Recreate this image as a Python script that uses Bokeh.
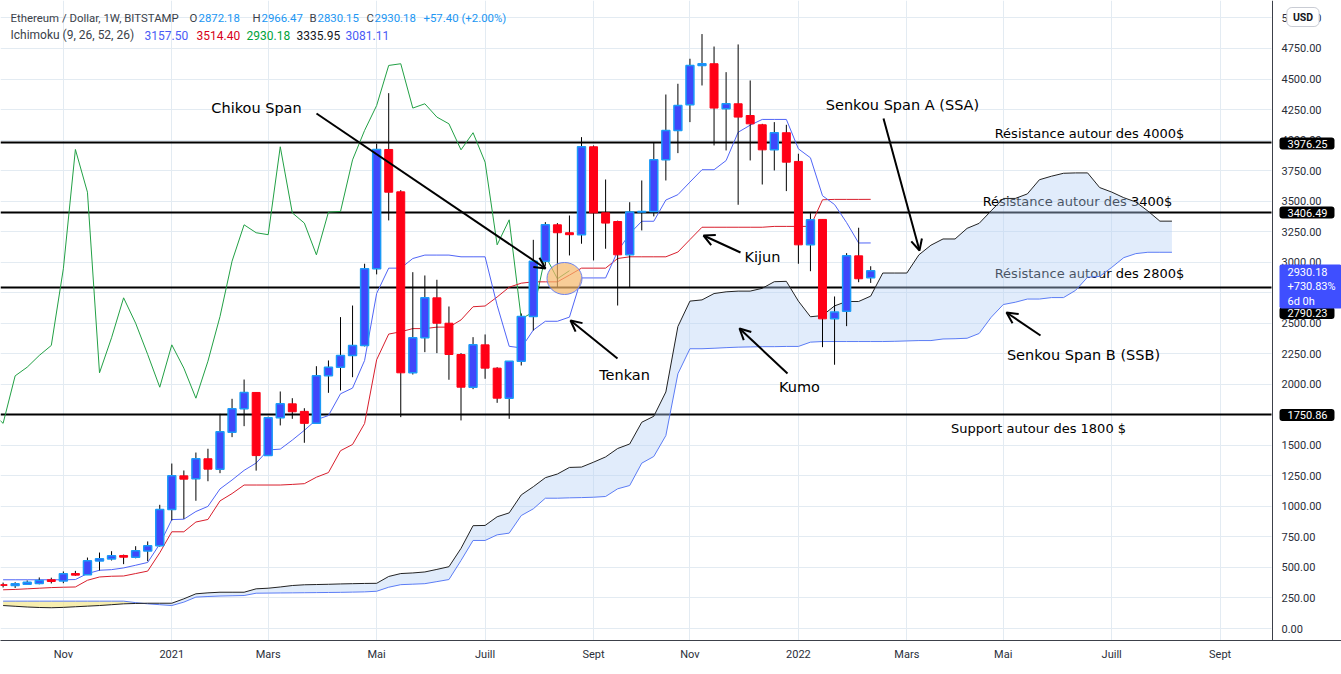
import numpy as np
from bokeh.plotting import figure
from bokeh.models import (Range1d, FixedTicker, SingleIntervalTicker, NumeralTickFormatter,
                          Label, Arrow, OpenHead, ColumnDataSource)
from bokeh.core.properties import value
from bokeh.embed import file_html
from bokeh.resources import INLINE

# ---------------- data (weekly bars, bar 0 = week of Mon 4 Jan 2021) ----------------
first_bar = -14

opens = [359, 353, 363, 368, 399, 388, 450, 440, 552, 569, 598, 584, 634, 677,
         975, 1250, 1226, 1390, 1305, 1608, 1799, 1933, 1416, 1725,
         1840, 1778, 1680, 2069, 2140, 2236, 2318, 2946, 3923, 3576,
         2094, 2381, 2708, 2500, 2244, 1976, 2323, 2132, 1886, 2189,
         2555, 3008, 3306, 3241, 3225, 3945, 3404, 3333, 3060, 3410,
         3415, 3838, 4079, 4289, 4611, 4625, 4256, 4297, 4201, 4125,
         3920, 4060, 3825, 3142, 3350, 2536, 2599, 3052, 2872.18]
highs = [376, 379, 393, 418, 416, 467, 472, 581, 622, 633, 605, 674, 713, 1013,
         1351, 1294, 1441, 1472, 1758, 1881, 2039, 1935, 1735, 1941,
         1886, 1804, 2148, 2195, 2550, 2645, 2987, 3970, 4384, 3590,
         2918, 2891, 2856, 2637, 2255, 2386, 2408, 2140, 2190, 2580,
         3183, 3328, 3320, 3382, 4024, 3956, 3677, 3340, 3491, 3669,
         3977, 4373, 4461, 4666, 4868, 4766, 4556, 4783, 4488, 4133,
         4147, 4125, 3888, 3401, 3350, 2719, 3074, 3282, 2966.47]
lows = [336, 332, 358, 362, 369, 371, 432, 438, 475, 557, 527, 575, 551, 670,
        885, 898, 1046, 1206, 1272, 1567, 1657, 1293, 1416, 1663,
        1717, 1521, 1676, 1930, 1949, 2058, 2310, 2900, 3342, 1731,
        2080, 2263, 2255, 2037, 1704, 1960, 2045, 1848, 1717, 2154,
        2441, 2970, 2795, 3055, 3151, 3014, 3110, 2645, 2795, 3260,
        3375, 3669, 3893, 4147, 4447, 3956, 3915, 3470, 3833, 3636,
        3751, 3582, 2987, 2926, 2304, 2160, 2476, 2836, 2830.15]
closes = [353, 366, 379, 393, 385, 448, 437, 554, 571, 595, 584, 636, 677, 975,
          1250, 1223, 1390, 1305, 1611, 1799, 1933, 1416, 1725, 1840,
          1775, 1680, 2069, 2140, 2236, 2318, 2946, 3923, 3573, 2094,
          2381, 2708, 2500, 2244, 1976, 2323, 2132, 1886, 2189, 2555,
          3008, 3306, 3241, 3225, 3945, 3404, 3320, 3060, 3410, 3415,
          3838, 4079, 4283, 4611, 4625, 4262, 4297, 4188, 4133, 3920,
          4060, 3819, 3142, 3347, 2536, 2591, 3052, 2864, 2930.18]

tenkan = [399, 399, 399, 399, 399, 399, 401, 450, 477, 482, 496, 518, 541, 692,
          892, 895, 958, 1000, 1143, 1216, 1295, 1355, 1462, 1469,
          1543, 1623, 1710, 1744, 1922, 1969, 2195, 2744, 2951, 2951,
          3030, 3058, 3058, 3058, 3044, 3044, 3044, 2647, 2311, 2298,
          2444, 2516, 2516, 2550, 2871, 2871, 2871, 3089, 3233, 3335,
          3335, 3509, 3553, 3656, 3757, 3757, 3832, 4064, 4122, 4169,
          4169, 4169, 3928, 3855, 3544, 3472, 3324, 3157, 3157.50]
kijun = [317, 320, 325, 330, 335, 338, 340, 395, 422, 428, 430, 450, 470, 620,
         792, 792, 872, 893, 1045, 1105, 1175, 1175, 1175, 1175,
         1180, 1186, 1239, 1277, 1456, 1507, 1679, 2201, 2411, 2430,
         2456, 2456, 2468, 2468, 2527, 2635, 2641, 2715, 2795, 2828,
         2839, 2839, 2839, 2894, 2951, 2951, 2951, 3030, 3044, 3044,
         3044, 3044, 3083, 3185, 3286, 3286, 3286, 3286, 3286, 3286,
         3293, 3293, 3293, 3293, 3511, 3514, 3514, 3514, 3514.40]

# leading spans, plotted from bar -14 to bar 83
senkou_a = [188, 182, 176, 172, 170, 173, 178, 183, 188, 195,
            202, 205, 207, 207, 207, 243, 284, 292, 297, 297,
            297, 325, 330, 340, 352, 358, 360, 362, 365, 367,
            369, 370, 426, 450, 455, 463, 484, 506, 656, 842,
            844, 915, 947, 1094, 1161, 1235, 1265, 1319, 1322, 1362,
            1405, 1474, 1511, 1689, 1738, 1937, 2473, 2681, 2691, 2743,
            2757, 2763, 2763, 2786, 2840, 2843, 2681, 2553, 2563, 2642,
            2678, 2678, 2722, 2911, 2911, 2911, 3060, 3139, 3190, 3190,
            3277, 3318, 3421, 3522, 3522, 3559, 3675, 3704, 3728, 3731,
            3731, 3611, 3574, 3528, 3493, 3419, 3336, 3335.95]
senkou_b = [224, 224, 224, 224, 224, 224, 224, 224, 224, 224,
            224, 212, 202, 195, 188, 216, 257, 262, 266, 268,
            270, 289, 290, 291, 292, 293, 294, 295, 296, 298,
            300, 305, 338, 359, 363, 367, 384, 401, 557, 721,
            721, 767, 781, 925, 980, 1067, 1067, 1070, 1072, 1075,
            1081, 1144, 1171, 1354, 1409, 1580, 2086, 2291, 2291, 2295,
            2300, 2304, 2306, 2308, 2308, 2310, 2310, 2345, 2350, 2350,
            2350, 2350, 2350, 2350, 2352, 2355, 2358, 2358, 2371, 2373,
            2377, 2416, 2549, 2653, 2672, 2698, 2698, 2710, 2710, 2769,
            2877, 2883, 2957, 3037, 3070, 3081, 3081, 3081.11]

displacement = 25  # lagging span offset used by the chart

month_ticks = [-9, 0, 8, 17, 26, 35, 43, 52, 61, 69, 78, 87]
month_labels = ["Nov", "2021", "Mars", "Mai", "Juill", "Sept",
                "Nov", "2022", "Mars", "Mai", "Juill", "Sept"]

levels = [3976.25, 3406.49, 2790.23, 1750.86]
last_close = 2930.18

# ---------------- layout helpers (screen px -> data) ----------------
BAR_PX = 12.05
BAR0_PX = 171.3
PRICE_PX = 0.12211
PRICE0_PX = 628.0
SCALE_PX = 1271  # left edge of the price scale


def dx(px):
    return (px - BAR0_PX) / BAR_PX


def dy(py):
    return (PRICE0_PX - py) / PRICE_PX


bars = list(range(first_bar, first_bar + len(opens)))
cloud_bars = list(range(first_bar, first_bar + len(senkou_a)))
chikou_bars = [b - displacement for b in bars]

FONT = "DejaVu Sans"
UIFONT = "Roboto"

y0, y1 = dy(640), dy(0)
p = figure(width=1341, height=674,
           x_range=Range1d(dx(0), dx(1341)), y_range=Range1d(y0, y1),
           output_backend="svg", toolbar_location=None, y_axis_location="right",
           min_border_left=0, min_border_top=0, min_border_right=0, min_border_bottom=34,
           outline_line_color=None, background_fill_color="white", border_fill_color="white")

# axes
xa = p.xaxis[0]
xa.ticker = FixedTicker(ticks=month_ticks)
xa.major_label_overrides = {t: l for t, l in zip(month_ticks, month_labels)}
xa.major_tick_line_color = None
xa.minor_tick_line_color = None
xa.major_tick_out = 0
xa.major_tick_in = 0
xa.axis_line_color = "#3c4049"
xa.major_label_text_font = UIFONT
xa.major_label_text_font_size = "11px"
xa.major_label_text_color = "#2a2e39"
xa.major_label_standoff = 7

# price scale: labels sit inside the scale strip, left of the right canvas edge
ya = p.yaxis[0]
ya.ticker = SingleIntervalTicker(interval=250, num_minor_ticks=0)
ya.formatter = NumeralTickFormatter(format="0.00")
ya.major_tick_line_color = None
ya.minor_tick_line_color = None
ya.major_tick_out = 0
ya.major_tick_in = 0
ya.axis_line_color = None
ya.major_label_text_font = UIFONT
ya.major_label_text_font_size = "11px"
ya.major_label_text_color = "#2a2e39"
ya.major_label_standoff = -60

p.grid.grid_line_color = "#e3ebf2"
p.grid.grid_line_width = 1

# horizontal support / resistance lines
p.hspan(y=levels, line_color="#000000", line_width=2)

# texts that sit under the cloud
res_texts = ["Résistance autour des 4000$", "Résistance autour des 3400$",
             "Résistance autour des 2800$", "Support autour des 1800 $"]
res_pos = [(1089, 133), (1077, 201), (1089, 273), (1038, 428)]
p.text(x=[dx(a) for a, b in res_pos], y=[dy(b) for a, b in res_pos], text=res_texts,
       text_font=value(FONT), text_font_size="13px", text_color="#000000",
       text_align="center", text_baseline="middle")

# cloud
A = np.array(senkou_a, dtype=float)
B = np.array(senkou_b, dtype=float)
top = np.maximum(A, B)
p.varea(x=cloud_bars, y1=A, y2=top, fill_color="#f2e27a", fill_alpha=0.6)
p.varea(x=cloud_bars, y1=B, y2=top, fill_color="#b4d0f5", fill_alpha=0.4)

# ichimoku lines
p.line(cloud_bars, senkou_b, line_color="#5b7cf5", line_width=1)
p.line(cloud_bars, senkou_a, line_color="#222222", line_width=1)
p.line(chikou_bars, closes, line_color="#22a045", line_width=1)
p.line(bars, kijun, line_color="#d81e2c", line_width=1)
p.line(bars, tenkan, line_color="#5065f6", line_width=1)

# candles
p.segment(x0=bars, y0=lows, x1=bars, y1=highs, line_color="#000000", line_width=1)
up = [k for k in range(len(bars)) if closes[k] >= opens[k]]
dn = [k for k in range(len(bars)) if closes[k] < opens[k]]
src_up = ColumnDataSource(dict(x=[bars[k] for k in up],
                               top=[closes[k] for k in up], bottom=[opens[k] for k in up]))
src_dn = ColumnDataSource(dict(x=[bars[k] for k in dn],
                               top=[opens[k] for k in dn], bottom=[closes[k] for k in dn]))
p.vbar(x="x", top="top", bottom="bottom", width=0.66, source=src_up,
       fill_color="#3f47fb", line_color="#1b9af7", line_width=1.5)
p.vbar(x="x", top="top", bottom="bottom", width=0.66, source=src_dn,
       fill_color="#ff0016", line_color="#ff0016", line_width=1)

# highlighted crossing
p.ellipse(x=dx(564), y=dy(278), width=35 / BAR_PX, height=32 / PRICE_PX,
          fill_color="#f5b86b", fill_alpha=0.7, line_color="#6b82f0", line_width=1)

# price-scale strip (white background + separator line)
p.quad(left=dx(SCALE_PX), right=dx(1345), bottom=y0 - 500, top=y1 + 500,
       fill_color="#ffffff", line_color=None)
p.vspan(x=[dx(SCALE_PX + 0.5)], line_color="#3c4049", line_width=1)

# annotation texts
ann_texts = ["Chikou Span", "Tenkan", "Kijun", "Kumo", "Senkou Span A (SSA)", "Senkou Span B (SSB)"]
ann_pos = [(256, 107), (624, 374), (762, 256), (799, 386), (902, 104), (1083, 354)]
p.text(x=[dx(a) for a, b in ann_pos], y=[dy(b) for a, b in ann_pos], text=ann_texts,
       text_font=value(FONT), text_font_size="14.5px", text_color="#000000",
       text_align="center", text_baseline="middle")

arrows = [(316, 113, 545, 268), (617, 358, 570, 320), (740, 252, 703, 235),
          (787, 373, 739, 328), (883, 118, 919, 250), (1040, 335, 1006, 312)]
for xa0, ya0, xa1, ya1 in arrows:
    p.add_layout(Arrow(end=OpenHead(size=11, line_width=2, line_color="#000000"),
                       x_start=dx(xa0), y_start=dy(ya0), x_end=dx(xa1), y_end=dy(ya1),
                       line_color="#000000", line_width=2))

# legend (top-left)
grey = "#3b3f4a"
vblue = "#2196f3"
line1 = [(10, "Ethereum / Dollar, 1W, BITSTAMP", grey), (189, "O", grey), (198, "2872.18", vblue),
         (252, "H", grey), (261, "2966.47", vblue), (309, "B", grey), (317, "2830.15", vblue),
         (366, "C", grey), (374, "2930.18", vblue), (423, "+57.40 (+2.00%)", vblue)]
line2 = [(10, "Ichimoku (9, 26, 52, 26)", grey), (144, "3157.50", "#4a5cf5"),
         (196, "3514.40", "#d8001a"), (246, "2930.18", "#00a33a"),
         (296, "3335.95", "#131722"), (345, "3081.11", "#4a5cf5")]
for row, ypx, fs in ((line1, 17.5, "11.4px"), (line2, 34.5, "12px")):
    p.text(x=[dx(a) for a, t, c in row], y=[dy(ypx)] * len(row), text=[t for a, t, c in row],
           text_color=[c for a, t, c in row], text_font=value(UIFONT), text_font_size=fs,
           text_align="left", text_baseline="middle")

# price tags on the scale
tag_rows = [(levels[0], dy(143)), (levels[1], dy(212)), (levels[3], dy(414.5)), (levels[2], dy(312.5))]
for lv, ypos in tag_rows:
    p.add_layout(Label(x=dx(1279), y=ypos, text=f"{lv:.2f}", text_color="#ffffff",
                       text_font=UIFONT, text_font_size="11px", text_align="left",
                       text_baseline="middle", background_fill_color="#000000",
                       background_fill_alpha=1.0, border_radius=3,
                       padding=dict(left=8, right=7, top=2, bottom=2)))
p.add_layout(Label(x=dx(1279), y=dy(264), text=f"{last_close:.2f}\n+730.83%\n6d 0h",
                   text_color="#ffffff", text_font=UIFONT, text_font_size="11px",
                   text_align="left", text_baseline="top", text_line_height=1.12,
                   background_fill_color="#3f4fff", background_fill_alpha=1.0, border_radius=2,
                   padding=dict(left=8, right=6, top=1, bottom=1)))
p.add_layout(Label(x=dx(1302.5), y=dy(16.5), text="USD", text_color="#131722", text_font=UIFONT,
                   text_font_size="10.5px", text_font_style="bold", text_align="center",
                   text_baseline="middle", background_fill_color="#ffffff", background_fill_alpha=1.0,
                   border_line_color="#c9ccd4", border_radius=5,
                   padding=dict(left=6, right=6, top=3, bottom=3)))

open("out.html", "w").write(file_html(p, INLINE))
